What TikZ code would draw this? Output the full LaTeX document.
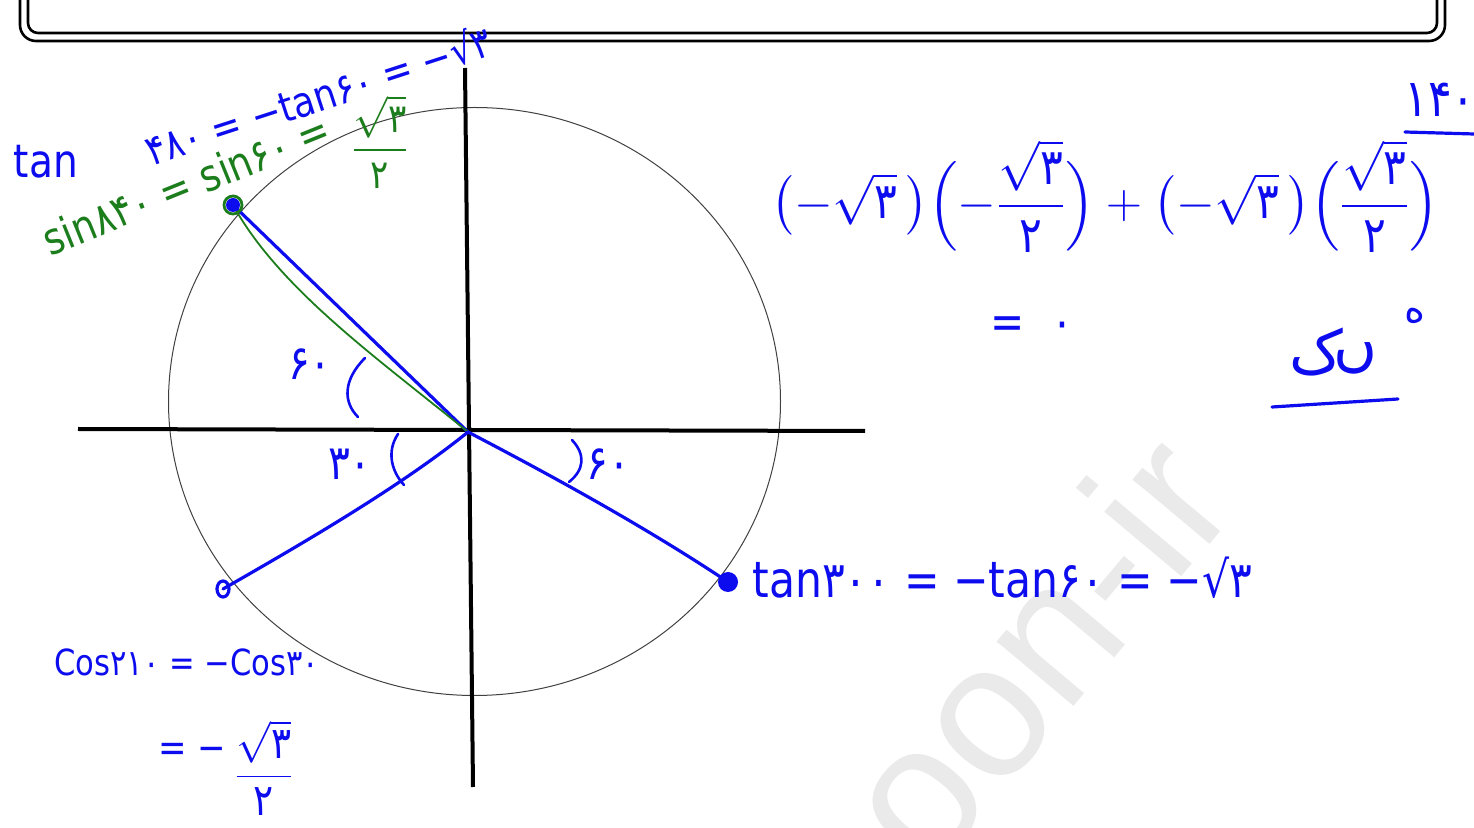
\documentclass[tikz,border=0pt]{standalone}
\usepackage{amsmath}
\usepackage{fontspec}
\setmainfont{DejaVu Sans}
\newfontfamily\handfont[FakeStretch=0.85]{DejaVu Sans}
\newfontfamily\wmfont{Liberation Sans}
\newfontfamily\arabicfont[Script=Arabic]{DejaVu Sans}
\definecolor{inkblue}{RGB}{12,12,238}
\definecolor{inkgreen}{RGB}{28,125,28}
\definecolor{wmgray}{RGB}{234,234,234}
\begin{document}
\begin{tikzpicture}[x=0.5pt,y=-0.5pt,
  ink/.style={inkblue,line width=1.6pt,line cap=round,line join=round},
  greenink/.style={inkgreen,line width=0.9pt,line cap=round,line join=round},
  axisline/.style={black,line width=2pt},
  framebox/.style={black,line width=1.3pt},
  hand/.style={text=inkblue,inner sep=0pt,font=\handfont\fontsize{20}{24}\selectfont},
  greenhand/.style={text=inkgreen,inner sep=0pt,font=\handfont\fontsize{22}{26}\selectfont}]
\useasboundingbox (0,0) rectangle (1474,828);
% watermark
\node[text=wmgray,rotate=50,font=\wmfont\fontsize{95}{100}\selectfont,anchor=east,inner sep=0pt] (wm) at (1190,462) {oon-ir};
% top frame
\draw[framebox,rounded corners=8pt] (20,-30) rectangle (1445,41);
\draw[framebox,rounded corners=5pt] (28,-30) rectangle (1437,33);
% circle
\draw[black!75,line width=0.5pt] (474.5,401.5) ellipse [x radius=306,y radius=294];
% axes
\coordinate (xl) at (78,429);
\coordinate (xr) at (865,431);
\coordinate (yt) at (465,68);
\coordinate (yb) at (473,787);
\draw[axisline] (xl) -- (xr);
\draw[axisline] (yt) -- (yb);
% points
\coordinate (O) at (468,432);
\coordinate (P1) at (233,205);
\coordinate (P2) at (223,589);
\coordinate (P3) at (728,582);
\draw[ink] (O) -- (P1);
\draw[greenink] (P1) .. controls (280,290) and (380,360) .. (O);
\draw[ink] (O) .. controls (400,487) and (300,545) .. (P2);
\draw[ink] (O) .. controls (560,480) and (650,530) .. (P3);
\fill[inkblue] (P1) circle (3.5pt);
\draw[inkgreen,line width=1.4pt] (P1) circle (4.5pt);
\draw[inkblue,line width=1.6pt] (P2) ellipse [x radius=6,y radius=8];
\fill[inkblue] (P3) circle (5pt);
% angle arcs
\coordinate (a1s) at (365,358);
\coordinate (a1e) at (358,417);
\draw[ink,line width=1.3pt] (a1s) .. controls (343,380) and (343,402) .. (a1e);
\coordinate (a2s) at (398,434);
\coordinate (a2e) at (404,485);
\draw[ink,line width=1.3pt] (a2s) .. controls (386,452) and (392,472) .. (a2e);
\coordinate (a3s) at (572,440);
\coordinate (a3e) at (569,482);
\draw[ink,line width=1.3pt] (a3s) .. controls (586,455) and (584,470) .. (a3e);
% angle labels
\node[hand,font=\handfont\fontsize{24}{28}\selectfont] (l60a) at (310,364) {۶۰};
\node[hand,font=\handfont\fontsize{24}{28}\selectfont] (l30) at (350,464) {۳۰};
\node[hand,font=\handfont\fontsize{24}{28}\selectfont] (l60b) at (608,464) {۶۰};
% top-left texts
\node[hand,font=\handfont\fontsize{23}{26}\selectfont] (tanw) at (46,162) {tan};
\node[hand,rotate=18,font=\handfont\fontsize{21}{26}\selectfont] (tan480) at (318,95) {۴۸۰ = −tan۶۰ = −√۳};
\node[greenhand,rotate=22] (sin840) at (186,184) {sin۸۴۰ = sin۶۰ =};
\node[greenhand,font=\handfont\fontsize{20}{24}\selectfont] (sinfrac) at (380,142) {$\dfrac{\sqrt{\text{۳}}}{\text{۲}}$};
% bottom-left
\node[hand,anchor=west,font=\handfont\fontsize{18}{22}\selectfont] (cos210) at (54,662) {Cos۲۱۰ = −Cos۳۰};
\node[hand,anchor=west] (cosv) at (158,752) {= −};
\node[hand,font=\handfont\fontsize{22}{26}\selectfont] (cosfrac) at (264,768) {$\dfrac{\sqrt{\text{۳}}}{\text{۲}}$};
% bottom-right
\node[hand,anchor=west,font=\handfont\fontsize{25}{30}\selectfont] (tan300) at (752,578) {tan۳۰۰ = −tan۶۰ = −√۳};
% right expression
\node[text=inkblue,inner sep=0pt,font=\handfont\fontsize{25}{30}\selectfont] (expr) at (1105,196)
  {$\bigl(-\sqrt{\text{۳}}\,\bigr)\Bigl(-\dfrac{\sqrt{\text{۳}}}{\text{۲}}\Bigr)+\bigl(-\sqrt{\text{۳}}\,\bigr)\Bigl(\dfrac{\sqrt{\text{۳}}}{\text{۲}}\Bigr)$};
\node[hand,font=\handfont\fontsize{24}{28}\selectfont] (eq0) at (1032,328) {=\ \ ۰};
% top-right
\node[hand,font=\handfont\fontsize{26}{30}\selectfont] (n140) at (1440,100) {۱۴۰};
\coordinate (u1a) at (1405,132);
\coordinate (u1b) at (1474,134);
\draw[ink] (u1a) -- (u1b);
\node[hand,font=\arabicfont\fontsize{30}{34}\selectfont] (wordk) at (1316,352) {ک};
\node[hand,font=\arabicfont\fontsize{30}{34}\selectfont] (wordn) at (1356,358) {ں};
\node[hand,font=\arabicfont\fontsize{20}{24}\selectfont] (wordh) at (1415,316) {ه};
\coordinate (u2a) at (1272,407);
\coordinate (u2b) at (1398,399);
\draw[ink] (u2a) -- (u2b);
\end{tikzpicture}
\end{document}
